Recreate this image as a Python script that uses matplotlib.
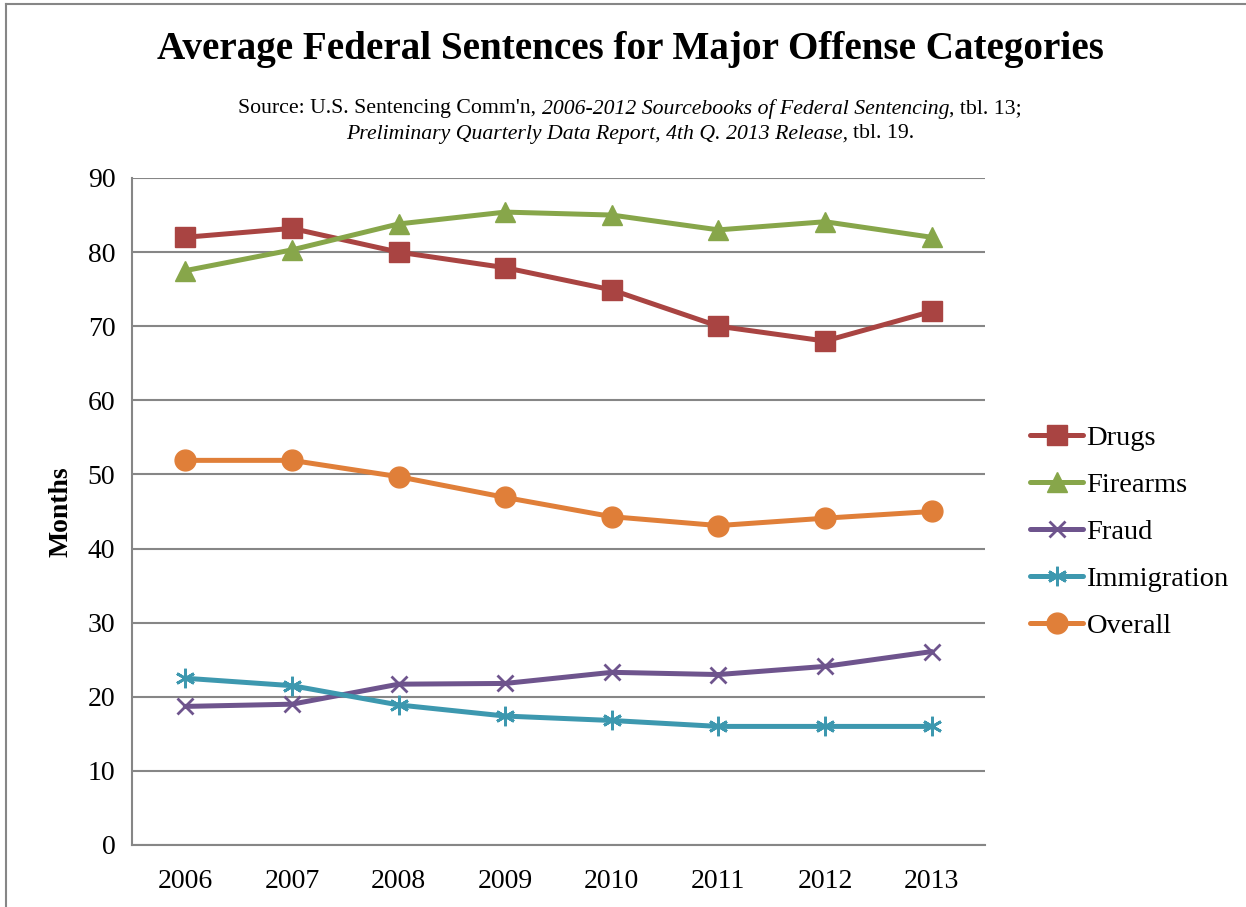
import matplotlib
matplotlib.use("Agg")
import matplotlib.pyplot as plt
from matplotlib.lines import Line2D

years = ["2006", "2007", "2008", "2009", "2010", "2011", "2012", "2013"]
drugs = [82.0, 83.2, 80.0, 77.9, 74.9, 70.0, 68.0, 72.0]
firearms = [77.5, 80.3, 83.8, 85.4, 85.0, 83.0, 84.1, 82.0]
fraud = [18.7, 19.0, 21.7, 21.8, 23.3, 23.0, 24.1, 26.1]
immigration = [22.5, 21.5, 18.9, 17.4, 16.8, 16.0, 16.0, 16.0]
overall = [51.9, 51.9, 49.7, 46.9, 44.3, 43.1, 44.1, 45.0]
series_names = ["Drugs", "Firearms", "Fraud", "Immigration", "Overall"]
y_ticks = [0, 10, 20, 30, 40, 50, 60, 70, 80, 90]

plt.rcParams['font.family'] = ['Liberation Serif', 'DejaVu Serif']

W, H = 1246, 907
fig = plt.figure(figsize=(W/100, H/100), dpi=100)
ax = fig.add_axes([132/W, 1-845/H, (985-132)/W, (845-178)/H])

x = list(range(len(years)))
grey = '#868686'
styles = [
    (drugs, '#A94442', dict(marker='s', markersize=14)),
    (firearms, '#87A64A', dict(marker='^', markersize=15)),
    (fraud, '#6E548D', dict(marker='x', markersize=12, markeredgewidth=2)),
    (immigration, '#3D98AF', dict(marker=(6, 2, 0), markersize=14, markeredgewidth=2)),
    (overall, '#E07F39', dict(marker='o', markersize=15)),
]
handles = []
for (vals, col, mk), name in zip(styles, series_names):
    ln, = ax.plot(x, vals, color=col, lw=3.6, markeredgecolor=col,
                  markerfacecolor=col, label=name, solid_capstyle='round', **mk)
    handles.append(ln)

ax.set_xlim(-0.5, len(years) - 0.5)
ax.set_ylim(0, 90)
ax.set_yticks(y_ticks)
ax.set_xticks(x)
ax.set_xticklabels(years)
ax.yaxis.grid(True, color=grey, lw=1.5)
ax.set_axisbelow(True)
for s in ['top', 'right']:
    ax.spines[s].set_visible(False)
for s in ['left', 'bottom']:
    ax.spines[s].set_color(grey)
    ax.spines[s].set_linewidth(1.5)
ax.tick_params(axis='both', length=0, labelsize=20)
ax.tick_params(axis='y', pad=12)
ax.tick_params(axis='x', pad=17)
ax.set_ylabel("Months", fontsize=20, fontweight='bold', labelpad=10)

leg = fig.legend(handles=handles, loc='upper left', bbox_to_anchor=(1019/W, 1-414/H),
                 frameon=False, fontsize=20.5, handlelength=1.85, handletextpad=0.12,
                 labelspacing=0.74, borderaxespad=0)

fig.text(630/W, 1-50/H, "Average Federal Sentences for Major Offense Categories",
         ha='center', va='center', fontsize=28.2, fontweight='bold')

renderer = fig.canvas.get_renderer()
sub_size = 15.7

def text_width(s, style):
    t = fig.text(0, 0, s, fontsize=sub_size, style=style)
    w = t.get_window_extent(renderer).width
    t.remove()
    return w

def draw_segments(segments, yc):
    # segments: list of (text, style, gap_before_in_spaces)
    widths = [text_width(s, st) for s, st, _ in segments]
    gaps = []
    for s, st, g in segments:
        sp = text_width("a a", st) - text_width("aa", st)
        gaps.append(sp * g)
    total = sum(widths) + sum(gaps)
    xpos = 630 - total / 2
    for (s, st, g), w, gp in zip(segments, widths, gaps):
        xpos += gp
        fig.text(xpos / W, 1 - yc / H, s, fontsize=sub_size, style=st,
                 ha='left', va='center')
        xpos += w

draw_segments([("Source: U.S. Sentencing Comm'n,", 'normal', 0),
               ("2006-2012 Sourcebooks of Federal Sentencing", 'italic', 1),
               (", tbl. 13;", 'normal', 0)], 109)
draw_segments([("Preliminary Quarterly Data Report, 4th Q. 2013 Release,", 'italic', 0),
               ("tbl. 19.", 'normal', 1)], 134)

# outer border (left and top)
fig.add_artist(Line2D([6/W, 6/W], [0, 1-4/H], color=grey, lw=1.5))
fig.add_artist(Line2D([6/W, 1], [1-4/H, 1-4/H], color=grey, lw=1.5))

fig.savefig("out.png", dpi=100)
